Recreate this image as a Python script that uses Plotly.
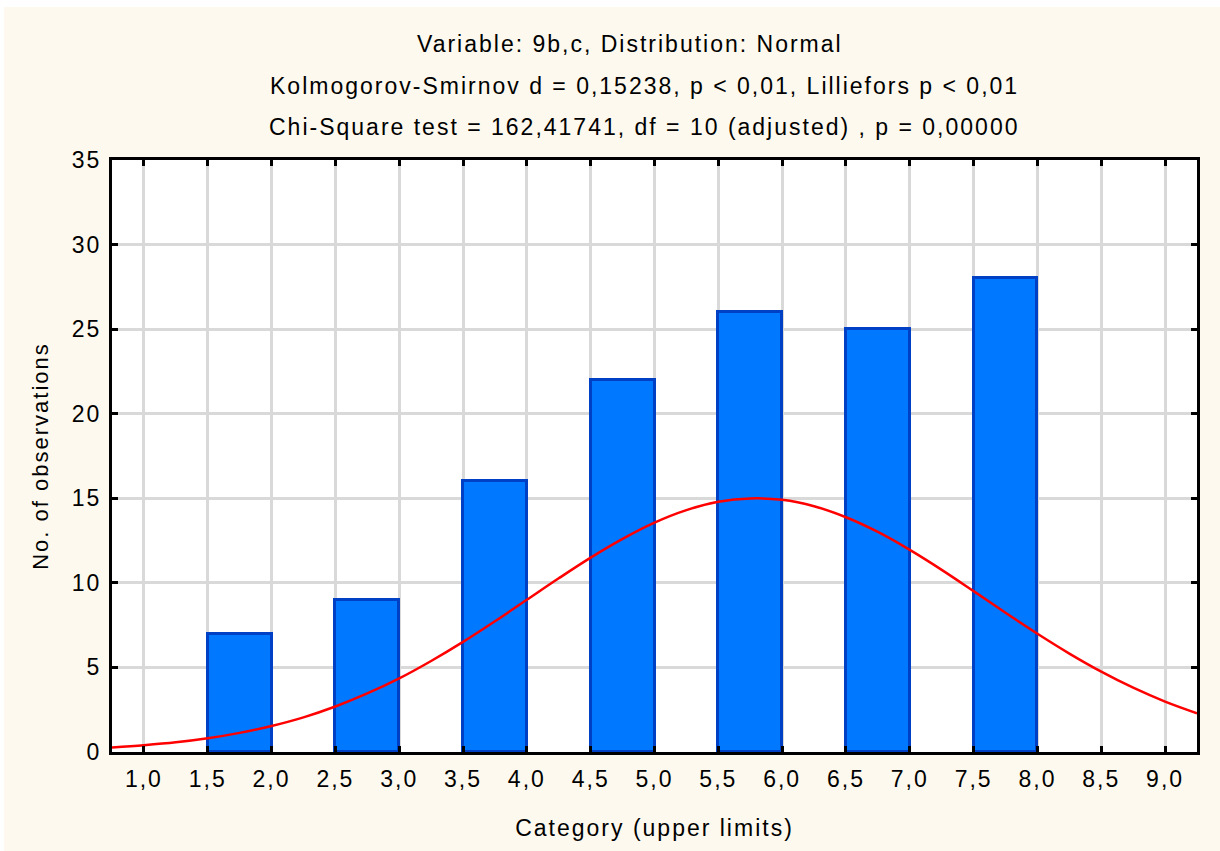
import plotly.graph_objects as go

# Histogram data (upper-limit categories)
bar_left = [1.5, 2.5, 3.5, 4.5, 5.5, 6.5, 7.5]
bar_counts = [7, 9, 16, 22, 26, 25, 28]
bar_width = 0.5

# Fitted normal curve
curve_x = [0.75, 1.0, 1.25, 1.5, 1.75, 2.0, 2.25, 2.5, 2.75, 3.0, 3.25, 3.5, 3.75,
           4.0, 4.25, 4.5, 4.75, 5.0, 5.25, 5.5, 5.75, 6.0, 6.25, 6.5, 6.75, 7.0,
           7.25, 7.5, 7.75, 8.0, 8.25, 8.5, 8.75, 9.0, 9.25]
curve_y = [0.27, 0.40, 0.57, 0.81, 1.13, 1.54, 2.05, 2.69, 3.46, 4.35, 5.38, 6.51, 7.73,
           9.00, 10.27, 11.49, 12.60, 13.56, 14.30, 14.79, 14.99, 14.91, 14.53, 13.88, 13.01, 11.95,
           10.77, 9.51, 8.23, 6.99, 5.82, 4.75, 3.80, 2.98, 2.29]

x_tickvals = [1.0, 1.5, 2.0, 2.5, 3.0, 3.5, 4.0, 4.5, 5.0, 5.5, 6.0, 6.5, 7.0, 7.5, 8.0, 8.5, 9.0]
x_ticktext = ["1,0", "1,5", "2,0", "2,5", "3,0", "3,5", "4,0", "4,5", "5,0", "5,5",
              "6,0", "6,5", "7,0", "7,5", "8,0", "8,5", "9,0"]
y_tickvals = [0, 5, 10, 15, 20, 25, 30, 35]

title_lines = [
    "Variable: 9b,c, Distribution: Normal",
    "Kolmogorov-Smirnov d = 0,15238, p < 0,01, Lilliefors p < 0,01",
    "Chi-Square test = 162,41741, df = 10 (adjusted) , p = 0,00000",
]
title_centers = [630, 644, 644]
title_ys = [44, 86, 127]

FONT = "Liberation Sans, Arial, sans-serif"
CREAM = "#FDF9EE"

fig = go.Figure()
fig.add_trace(go.Bar(
    x=[b + bar_width / 2 for b in bar_left],
    y=bar_counts,
    width=bar_width,
    marker=dict(color="#0078FF", line=dict(color="#0040C4", width=3)),
    showlegend=False,
))
fig.add_trace(go.Scatter(
    x=curve_x, y=curve_y, mode="lines",
    line=dict(color="#FF0000", width=2.5, shape="spline"),
    showlegend=False,
))

axis_common = dict(
    showline=True, linecolor="black", linewidth=3, mirror="ticks",
    ticks="inside", ticklen=6, tickwidth=3, tickcolor="black",
    showgrid=True, gridcolor="#D9D9D9", gridwidth=2.5, zeroline=False,
    tickfont=dict(family=FONT, size=23, color="black"),
)

fig.update_xaxes(
    range=[0.75, 9.25], tickvals=x_tickvals, ticktext=x_ticktext,
    ticklabelstandoff=4,
    title=dict(text="Category (upper limits)", font=dict(family=FONT, size=23, color="black"), standoff=30),
    **axis_common,
)
fig.update_yaxes(
    range=[0, 35], tickvals=y_tickvals,
    ticklabelstandoff=3,
    title=dict(text="No. of observations", font=dict(family=FONT, size=22, color="black"), standoff=22),
    **axis_common,
)

annotations = []
for txt, cx, ypx in zip(title_lines, title_centers, title_ys):
    annotations.append(dict(
        text=txt, xref="paper", yref="paper",
        x=(cx - 112) / 1085, y=1 + (160 - ypx) / 592,
        xanchor="center", yanchor="middle", showarrow=False,
        font=dict(family=FONT, size=23, color="black"),
    ))

fig.update_layout(
    width=1220, height=851,
    margin=dict(l=112, r=23, t=160, b=99),
    paper_bgcolor=CREAM, plot_bgcolor="white",
    bargap=0, annotations=annotations,
    shapes=[
        dict(type="rect", xref="paper", yref="paper",
             x0=-112 / 1085, x1=(-112 + 4) / 1085, y0=-99 / 592, y1=1 + 160 / 592,
             fillcolor="white", line=dict(width=0), layer="above"),
        dict(type="rect", xref="paper", yref="paper",
             x0=-112 / 1085, x1=1 + 23 / 1085, y0=1 + (160 - 7) / 592, y1=1 + 160 / 592,
             fillcolor="white", line=dict(width=0), layer="above"),
    ],
)

post = (
    "document.body.style.margin='0';"
    "document.querySelectorAll('svg text').forEach(function(t){t.style.letterSpacing='2px';});"
)

fig.write_html("out.html", post_script=post, config={"displayModeBar": False})
